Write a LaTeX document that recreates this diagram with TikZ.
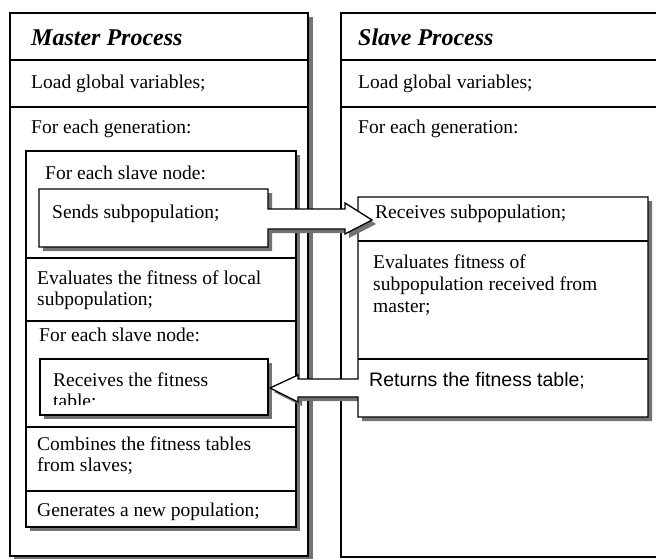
\documentclass[tikz,border=0pt]{standalone}
\usepackage{fontspec}
\setmainfont{Liberation Serif}
\newfontfamily\arialfont{Liberation Sans}
\begin{document}
\begin{tikzpicture}[x=1pt,y=-1pt,
  box/.style={draw=black,line width=1.3pt,fill=white},
  shad/.style={fill=black!55,draw=none},
  sep/.style={draw=black,line width=1.3pt},
  ttl/.style={anchor=base west,inner sep=0pt,font=\fontsize{24}{28}\selectfont\bfseries\itshape},
  txt/.style={anchor=base west,inner sep=0pt,font=\fontsize{19.5}{22}\selectfont},
  tar/.style={anchor=base west,inner sep=0pt,font=\fontsize{19.5}{22}\selectfont\arialfont}
]
\useasboundingbox (0,0) rectangle (656,558);
\clip (0,0) rectangle (656,558);
% master outer
\fill[shad] (14,17) rectangle (313,561);
\draw[box] (10,13) rectangle (308,556);
\draw[sep] (10,60) -- (308,60);
\draw[sep] (10,107) -- (308,107);
% slave outer
\draw[box] (341,13) rectangle (690,557);
\draw[sep] (341,60) -- (690,60);
\draw[sep] (341,107) -- (690,107);
% master inner
\fill[shad] (30,155) rectangle (300,531);
\draw[box] (26,151) rectangle (296,527);
\draw[sep] (26,258) -- (296,258);
\draw[sep] (26,321) -- (296,321);
\draw[sep] (26,427) -- (296,427);
\draw[sep] (26,491) -- (296,491);
% receives fitness box
\fill[shad] (44,363) rectangle (272,419);
\draw[box] (40,359) rectangle (268,415);
% slave inner with return arrow
\fill[shad, shift={(4,4)}] (358,197) -- (648,197) -- (648,417) -- (358,417) -- (358,397) -- (298,397) -- (298,402) -- (270,388) -- (298,375) -- (298,379) -- (358,379) -- cycle;
\draw[box, line join=miter] (358,197) -- (648,197) -- (648,417) -- (358,417) -- (358,397) -- (298,397) -- (298,402) -- (270,388) -- (298,375) -- (298,379) -- (358,379) -- cycle;
\draw[sep] (358,241) -- (648,241);
\draw[sep] (358,359) -- (648,359);
% sends with arrow
\fill[shad, shift={(4,4)}] (39,189) -- (268,189) -- (268,209) -- (345,209) -- (345,203) -- (372,220) -- (345,234) -- (345,229) -- (268,229) -- (268,247) -- (39,247) -- cycle;
\draw[box, line join=miter] (39,189) -- (268,189) -- (268,209) -- (345,209) -- (345,203) -- (372,220) -- (345,234) -- (345,229) -- (268,229) -- (268,247) -- (39,247) -- cycle;
% master texts
\node[ttl] (mt) at (31,45) {Master Process};
\node[txt] (ml) at (31,88) {Load global variables;};
\node[txt] (mg) at (31,133) {For each generation:};
\node[txt] (ms1) at (45,179) {For each slave node:};
\node[txt] (msd) at (52,218) {Sends subpopulation;};
\node[txt] (me1) at (37,284) {Evaluates the fitness of local};
\node[txt] (me2) at (37,305) {subpopulation;};
\node[txt] (ms2) at (39,341) {For each slave node:};
\node[txt] (mr1) at (53,386) {Receives the fitness};
\begin{scope}
\clip (40,359) rectangle (268,404);
\node[txt] (mr2) at (53,407) {table;};
\end{scope}
\node[txt] (mc1) at (37,450) {Combines the fitness tables};
\node[txt] (mc2) at (37,471) {from slaves;};
\node[txt] (mn) at (37,516) {Generates a new population;};
% slave texts
\node[ttl] (st) at (358,45) {Slave Process};
\node[txt] (sl) at (358,88) {Load global variables;};
\node[txt] (sg) at (358,133) {For each generation:};
\node[txt] (sr) at (375,218) {Receives subpopulation;};
\node[txt] (se1) at (373,268) {Evaluates fitness of};
\node[txt] (se2) at (373,290) {subpopulation received from};
\node[txt] (se3) at (373,312) {master;};
\node[tar] (sret) at (369,386) {Returns the fitness table;};
\end{tikzpicture}
\end{document}
